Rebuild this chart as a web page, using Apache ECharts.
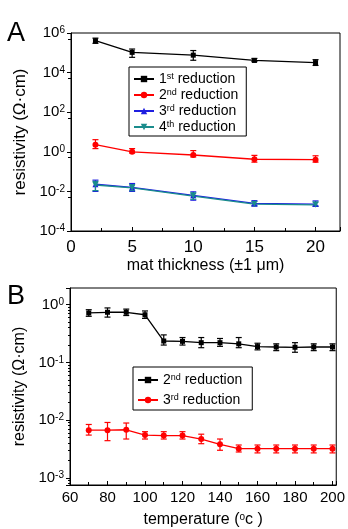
<!DOCTYPE html>
<html><head><meta charset="utf-8">
<script src="https://cdn.jsdelivr.net/npm/echarts@6/dist/echarts.min.js"></script>
<style>html,body{margin:0;padding:0;background:#fff}#c{width:348px;height:529px}</style>
</head><body><div id="c"></div>
<script>
// Panel A data
const thickness = [2, 5, 10, 15, 20];
const red1 = [4.1e5, 1.05e5, 7.6e4, 4.1e4, 3.2e4];
const red1Lo = [3.0e5, 5.9e4, 4.2e4, 3.6e4, 2.3e4];
const red1Hi = [5.5e5, 1.55e5, 1.3e5, 5.2e4, 4.5e4];
const red2 = [2.3, 1.0, 0.69, 0.42, 0.40];
const red2Lo = [1.45, 0.87, 0.55, 0.30, 0.30];
const red2Hi = [4.1, 1.45, 1.15, 0.66, 0.63];
const red3 = [0.023, 0.016, 0.0063, 0.0025, 0.0023];
const red3Lo = [0.010, 0.010, 0.0036, 0.0018, 0.0018];
const red3Hi = [0.037, 0.025, 0.0095, 0.0034, 0.0033];
const red4 = [0.021, 0.015, 0.0058, 0.0023, 0.0021];
const red4Lo = [0.011, 0.011, 0.0040, 0.0019, 0.0018];
const red4Hi = [0.032, 0.022, 0.0085, 0.0031, 0.0029];
// Panel B data
const temperature = [70, 80, 90, 100, 110, 120, 130, 140, 150, 160, 170, 180, 190, 200];
const bRed2 = [0.72, 0.74, 0.74, 0.67, 0.235, 0.232, 0.22, 0.22, 0.21, 0.188, 0.185, 0.183, 0.185, 0.185];
const bRed2Lo = [0.63, 0.61, 0.65, 0.58, 0.20, 0.20, 0.18, 0.19, 0.18, 0.165, 0.16, 0.15, 0.16, 0.16];
const bRed2Hi = [0.82, 0.88, 0.84, 0.78, 0.30, 0.27, 0.27, 0.26, 0.27, 0.215, 0.21, 0.22, 0.21, 0.21];
const bRed3 = [0.0067, 0.0067, 0.0068, 0.0055, 0.0054, 0.0054, 0.0047, 0.0038, 0.0032, 0.0032, 0.0032, 0.0032, 0.0032, 0.0032];
const bRed3Lo = [0.0055, 0.0044, 0.0047, 0.0047, 0.0047, 0.0047, 0.0039, 0.0030, 0.0028, 0.0027, 0.0027, 0.0027, 0.0027, 0.0027];
const bRed3Hi = [0.0084, 0.0091, 0.0089, 0.0063, 0.0063, 0.0063, 0.0057, 0.0047, 0.0037, 0.0037, 0.0037, 0.0037, 0.0037, 0.0037];
const legendA = ['1st reduction', '2nd reduction', '3rd reduction', '4th reduction'];
const legendB = ['2nd reduction ', '3rd reduction '];

const FONT = 'Liberation Sans, Arial, sans-serif';
const supRich = { sup: { fontSize: 10, lineHeight: 10, verticalAlign: 'top', fontFamily: FONT, color: '#000' } };
function powLabel(v) {
  const l = Math.log10(v);
  const e = Math.round(l);
  if (Math.abs(l - e) > 0.01) return '';
  return '10{sup|' + e + '}';
}
function legFmt(name) {
  const m = name.trim().match(/^(\d)(st|nd|rd|th) (.*)$/);
  return m ? m[1] + '{sup|' + m[2] + '} ' + m[3] : name;
}
function zip(xs, ys) { return xs.map((x, i) => [x, ys[i]]); }
function errData(xs, lo, hi) { return xs.map((x, i) => [x, lo[i], hi[i]]); }
function errSeries(name, xs, lo, hi, color, idx) {
  return {
    type: 'custom', name: name, xAxisIndex: idx, yAxisIndex: idx, z: 1,
    data: errData(xs, lo, hi), encode: { x: 0, y: [1, 2] }, silent: true,
    renderItem: function (params, api) {
      const x = api.value(0);
      const a = api.coord([x, api.value(1)]);
      const b = api.coord([x, api.value(2)]);
      const w = 3;
      const st = { stroke: color, lineWidth: 1.2 };
      return { type: 'group', children: [
        { type: 'line', shape: { x1: a[0], y1: a[1], x2: b[0], y2: b[1] }, style: st },
        { type: 'line', shape: { x1: a[0] - w, y1: a[1], x2: a[0] + w, y2: a[1] }, style: st },
        { type: 'line', shape: { x1: b[0] - w, y1: b[1], x2: b[0] + w, y2: b[1] }, style: st }
      ] };
    }
  };
}
function lineSeries(name, xs, ys, color, symbol, idx, rot) {
  return {
    type: 'line', name: name, xAxisIndex: idx, yAxisIndex: idx, z: 3,
    data: zip(xs, ys), symbol: symbol, symbolSize: symbol === 'rect' ? 5 : 6, symbolRotate: rot || 0,
    showAllSymbol: true, animation: false,
    itemStyle: { color: color }, lineStyle: { color: color, width: 1.3 }
  };
}
const yLabel = { fontSize: 15, fontFamily: FONT, color: '#000', margin: 6, formatter: powLabel, rich: supRich, showMinLabel: true, showMaxLabel: true };
const legText = { fontSize: 14, fontFamily: FONT, color: '#000', rich: { sup: { fontSize: 9, lineHeight: 9, verticalAlign: 'top', fontFamily: FONT } } };
const chart = echarts.init(document.getElementById('c'), null, { renderer: 'canvas' });
chart.setOption({
  animation: false,
  backgroundColor: '#fff',
  graphic: [
    { type: 'text', left: 7, top: 20, style: { text: 'A', fontSize: 27, fontFamily: FONT, fill: '#000' } },
    { type: 'text', left: 7, top: 283, style: { text: 'B', fontSize: 27, fontFamily: FONT, fill: '#000' } }
  ],
  grid: [
    { left: 71, top: 33, width: 269, height: 198, show: true, borderColor: '#000', borderWidth: 1, containLabel: false },
    { left: 70, top: 288, width: 271, height: 199, show: true, borderColor: '#000', borderWidth: 1, containLabel: false }
  ],
  legend: [
    { data: legendA, orient: 'vertical', left: 129, top: 67, itemWidth: 20, itemHeight: 8, itemGap: 2,
      padding: [5, 8, 2, 4], borderColor: '#000', borderWidth: 1, borderRadius: 0, formatter: legFmt, selectedMode: false,
      textStyle: legText },
    { data: legendB, orient: 'vertical', left: 133, top: 367, itemWidth: 20, itemHeight: 8, itemGap: 6,
      padding: [6, 10, 3, 4], borderColor: '#000', borderWidth: 1, borderRadius: 0, formatter: legFmt, selectedMode: false,
      textStyle: legText }
  ],
  xAxis: [
    { type: 'value', gridIndex: 0, min: 0, max: 22, interval: 5,
      name: 'mat thickness (±1 μm)', nameLocation: 'middle', nameGap: 27,
      nameTextStyle: { fontSize: 16, fontFamily: FONT, color: '#000' },
      axisLine: { show: true, lineStyle: { color: '#000', width: 1 } },
      axisTick: { show: true, inside: true, length: 4, lineStyle: { color: '#000' } },
      minorTick: { show: true, splitNumber: 2, length: 3, lineStyle: { color: '#000' } },
      splitLine: { show: false },
      axisLabel: { fontSize: 17, fontFamily: FONT, color: '#000', margin: 8, showMaxLabel: false } },
    { type: 'value', gridIndex: 1, min: 60, max: 202, interval: 20,
      name: 'temperature ({sup|o}c )', nameLocation: 'middle', nameGap: 27,
      nameTextStyle: { fontSize: 16, fontFamily: FONT, color: '#000', rich: { sup: { fontSize: 10, lineHeight: 10, verticalAlign: 'top', fontFamily: FONT } } },
      axisLine: { show: true, lineStyle: { color: '#000', width: 1 } },
      axisTick: { show: true, inside: true, length: 4, lineStyle: { color: '#000' } },
      minorTick: { show: true, splitNumber: 2, length: 3, lineStyle: { color: '#000' } },
      splitLine: { show: false },
      axisLabel: { fontSize: 15, fontFamily: FONT, color: '#000', margin: 5, showMaxLabel: false } }
  ],
  yAxis: [
    { type: 'log', logBase: 10, gridIndex: 0, min: 1e-4, max: 1e6, interval: 2,
      name: 'resistivity (Ω·cm)', nameLocation: 'middle', nameGap: 39,
      nameTextStyle: { fontSize: 17, fontFamily: FONT, color: '#000' },
      axisLine: { show: true, lineStyle: { color: '#000', width: 1 } },
      axisTick: { show: true, length: 4, lineStyle: { color: '#000' } },
      minorTick: { show: true, splitNumber: 2, length: 3, lineStyle: { color: '#000' } },
      splitLine: { show: false },
      axisLabel: yLabel },
    { type: 'log', logBase: 10, gridIndex: 1, min: 7.5e-4, max: 1.95, splitNumber: 4,
      name: 'resistivity (Ω·cm)', nameLocation: 'middle', nameGap: 39,
      nameTextStyle: { fontSize: 16, fontFamily: FONT, color: '#000' },
      axisLine: { show: true, lineStyle: { color: '#000', width: 1 } },
      axisTick: { show: true, length: 4, lineStyle: { color: '#000' } },
      minorTick: { show: true, splitNumber: 9, length: 2, lineStyle: { color: '#000' } },
      splitLine: { show: false },
      axisLabel: yLabel }
  ],
  series: [
    errSeries('e1', thickness, red1Lo, red1Hi, '#000', 0),
    errSeries('e2', thickness, red2Lo, red2Hi, '#ff0000', 0),
    errSeries('e3', thickness, red3Lo, red3Hi, '#1f1fe0', 0),
    errSeries('e4', thickness, red4Lo, red4Hi, '#1a8c8c', 0),
    lineSeries(legendA[0], thickness, red1, '#000', 'rect', 0),
    lineSeries(legendA[1], thickness, red2, '#ff0000', 'circle', 0),
    lineSeries(legendA[2], thickness, red3, '#1f1fe0', 'triangle', 0),
    lineSeries(legendA[3], thickness, red4, '#1a8c8c', 'triangle', 0, 180),
    errSeries('e5', temperature, bRed2Lo, bRed2Hi, '#000', 1),
    errSeries('e6', temperature, bRed3Lo, bRed3Hi, '#ff0000', 1),
    lineSeries(legendB[0], temperature, bRed2, '#000', 'rect', 1),
    lineSeries(legendB[1], temperature, bRed3, '#ff0000', 'circle', 1)
  ]
});
</script></body></html>
